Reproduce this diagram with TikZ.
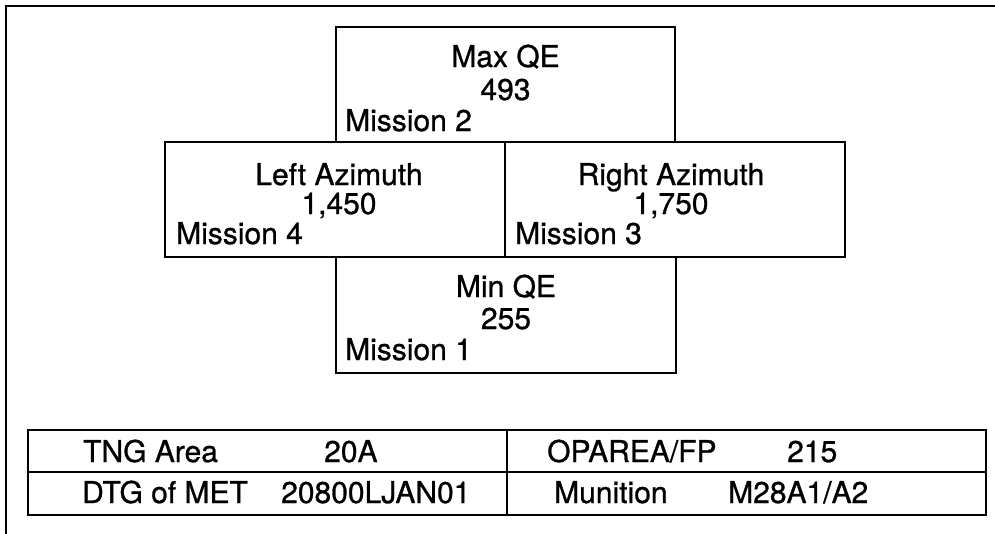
\documentclass[tikz,border=0pt]{standalone}
\usepackage{fontspec}
\setmainfont{TeX Gyre Heros}[FakeBold=0.9]
\begin{document}
\begin{tikzpicture}[x=1pt,y=-1pt,
  font=\fontsize{30}{35}\selectfont,
  box/.style={draw, line width=2.2pt, anchor=north west, inner sep=0pt, outer sep=0pt},
  lbl/.style={anchor=base, inner sep=0pt},
  lblw/.style={anchor=base west, inner sep=0pt}]
\useasboundingbox (0,0) rectangle (995,533);
% outer frame (only left and top edges visible)
\coordinate (fbl) at (6,545);
\coordinate (ftl) at (6,6);
\coordinate (ftr) at (1005,6);
\draw[line width=2.5pt] (fbl) -- (ftl) -- (ftr);
% boxes
\node[box, minimum width=339pt, minimum height=115pt] (maxqe) at (336,27) {};
\node[box, minimum width=340pt, minimum height=115pt] (leftaz) at (165,142) {};
\node[box, minimum width=340pt, minimum height=115pt] (rightaz) at (505,142) {};
\node[box, minimum width=340pt, minimum height=116pt] (minqe) at (336,257) {};
% texts in boxes
\node[lbl] (t1) at (505.5,67) {Max QE};
\node[lbl] (t2) at (505.5,100) {493};
\node[lblw] (t3) at (345,131) {Mission 2};
\node[lbl] (t4) at (339,185) {Left Azimuth};
\node[lbl] (t5) at (339,214) {1,450};
\node[lblw] (t6) at (176,244) {Mission 4};
\node[lbl] (t7) at (671,185) {Right Azimuth};
\node[lbl] (t8) at (671,214) {1,750};
\node[lblw] (t9) at (515,244) {Mission 3};
\node[lbl] (t10) at (506,297) {Min QE};
\node[lbl] (t11) at (506,329) {255};
\node[lblw] (t12) at (345,360) {Mission 1};
% table
\node[box, minimum width=958pt, minimum height=85pt] (tab) at (28,430) {};
\coordinate (hl) at (28,472);
\coordinate (hr) at (986,472);
\coordinate (vt) at (507,430);
\coordinate (vb) at (507,515);
\draw[line width=2.2pt] (hl) -- (hr);
\draw[line width=2.2pt] (vt) -- (vb);
\node[lblw] (c1) at (83,462) {TNG Area};
\node[lblw] (c2) at (324,462) {20A};
\node[lblw] (c3) at (547,462) {OPAREA/FP};
\node[lblw] (c4) at (787,462) {215};
\node[lblw] (c5) at (82,503) {DTG of MET};
\node[lblw] (c6) at (281,503) {20800LJAN01};
\node[lblw] (c7) at (554,503) {Munition};
\node[lblw] (c8) at (728,503) {M28A1/A2};
\end{tikzpicture}
\end{document}
